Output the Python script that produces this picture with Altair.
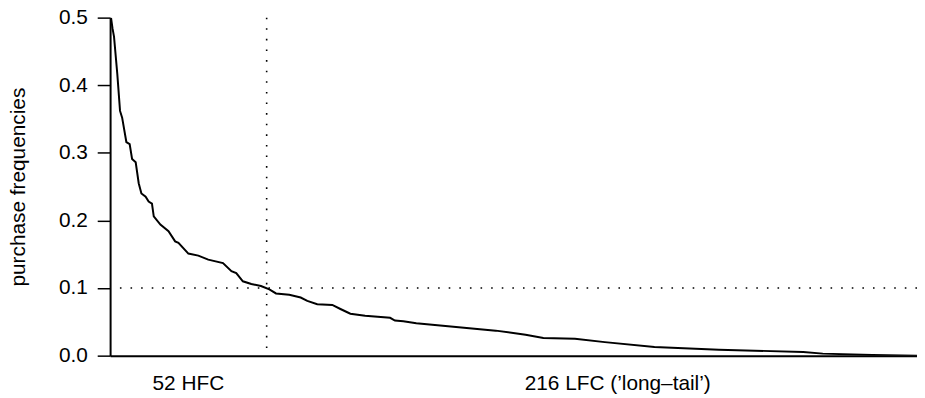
import altair as alt
import pandas as pd

# Ranked purchase frequencies
rank = [0.3, 0.8, 1.3, 2.4, 3.3, 4.0, 5.4, 6.5, 7.3, 8.5, 9.5, 10.4, 11.8, 12.8,
        13.9, 14.5, 16.7, 19.4, 21.6, 22.7, 26.0, 29.3, 32.6, 37.5, 40.3, 41.9,
        44.1, 46.9, 50.1, 52.9, 55.1, 59.5, 63.3, 65.5, 68.8, 73.8, 76.5, 79.8,
        84.7, 93.0, 94.6, 97.4, 101.7, 114.9, 128.1, 138.0, 143.9, 154.4, 164.3,
        180.8, 202.2, 230.2, 236.7, 253.2, 268.0]
freq = [0.500, 0.484, 0.472, 0.416, 0.362, 0.352, 0.316, 0.313, 0.291, 0.286,
        0.255, 0.240, 0.235, 0.228, 0.225, 0.206, 0.194, 0.184, 0.169, 0.167,
        0.151, 0.148, 0.142, 0.137, 0.125, 0.122, 0.110, 0.106, 0.103, 0.098,
        0.092, 0.090, 0.086, 0.081, 0.076, 0.075, 0.069, 0.062, 0.059, 0.056,
        0.052, 0.051, 0.048, 0.0425, 0.037, 0.031, 0.026, 0.025, 0.020, 0.0128,
        0.0088, 0.0054, 0.003, 0.001, 0.0]

n_hfc = 52
n_total = 268
threshold = 0.1
y_ticks = [0.0, 0.1, 0.2, 0.3, 0.4, 0.5]
group_labels = ["52 HFC", "216 LFC (\u2019long\u2013tail\u2019)"]
group_label_rank = [26, 168.6]

FONT = "Liberation Sans"
FS = 21

df = pd.DataFrame({"rank": rank, "freq": freq})
xs = alt.Scale(domain=[0, n_total], nice=False, zero=False)
ys = alt.Scale(domain=[0, 0.5], nice=False)

x_axis = alt.Axis(title=None, labels=False, ticks=False, grid=False,
                  domainColor="black", domainWidth=2)
y_axis = alt.Axis(values=y_ticks, format=".1f", grid=False,
                  title="purchase frequencies",
                  titleFont=FONT, titleFontSize=FS, titleFontWeight="normal",
                  titleColor="black", titleAngle=270,
                  titleX=-92, titleY=170.5, titleAlign="center",
                  titleBaseline="middle",
                  labelFont=FONT, labelFontSize=FS, labelColor="black",
                  labelPadding=10, tickSize=13, tickColor="black",
                  tickWidth=1.5, domainColor="black", domainWidth=2)

line = alt.Chart(df).mark_line(color="black", strokeWidth=2, clip=True).encode(
    x=alt.X("rank:Q", scale=xs, axis=x_axis),
    y=alt.Y("freq:Q", scale=ys, axis=y_axis),
)

vrule = alt.Chart(pd.DataFrame({"rank": [n_hfc]})).mark_rule(
    color="black", strokeWidth=1.6, strokeDash=[1.6, 9.1]
).encode(x=alt.X("rank:Q", scale=xs, axis=x_axis))

hrule = alt.Chart(pd.DataFrame({"freq": [threshold]})).mark_rule(
    color="black", strokeWidth=1.6, strokeDash=[1.6, 9.1]
).encode(y=alt.Y("freq:Q", scale=ys, axis=y_axis))

labels = alt.Chart(pd.DataFrame({"rank": group_label_rank, "label": group_labels})).mark_text(
    font=FONT, fontSize=FS, color="black", baseline="middle", align="center"
).encode(x=alt.X("rank:Q", scale=xs, axis=x_axis), y=alt.value(370), text="label:N")

chart = alt.layer(line, hrule, vrule, labels).properties(
    width=814, height=341, autosize="none",
    padding={"left": 103, "top": 8, "right": 0, "bottom": 41},
    background="white",
).configure_view(stroke=None)

chart.save("out.html", embed_options={"renderer": "svg", "actions": False})
